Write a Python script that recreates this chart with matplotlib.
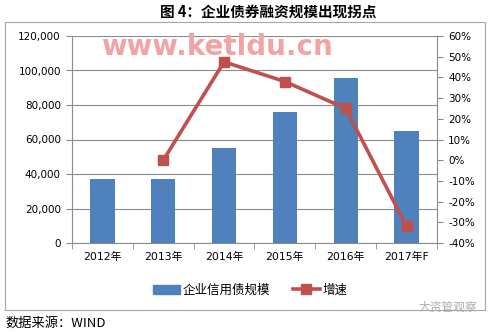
import matplotlib
matplotlib.use("Agg")
import matplotlib.pyplot as plt
import matplotlib.patches as mpatches
from matplotlib.lines import Line2D
import numpy as np

plt.rcParams['font.family'] = ['DejaVu Sans', 'Noto Sans CJK SC']

categories = ["2012年", "2013年", "2014年", "2015年", "2016年", "2017年F"]
scale_values = [37100, 37100, 55000, 76000, 95600, 65000]
growth_pct = [None, 0.0, 47.5, 38.0, 25.0, -32.0]
left_ticks = [0, 20000, 40000, 60000, 80000, 100000, 120000]
right_ticks = [-40, -30, -20, -10, 0, 10, 20, 30, 40, 50, 60]

BLUE = '#4F81BD'
RED = '#C0504D'
GRID = '#8C8C8C'

W, H = 491, 332
fig = plt.figure(figsize=(W / 100, H / 100), dpi=100)

def fx(px):
    return px / W

def fy(py):
    return 1 - py / H

# outer frame
fig.patches.append(mpatches.Rectangle((fx(5), fy(310)), fx(480), 288 / H,
                                      transform=fig.transFigure, fill=False,
                                      edgecolor='#A6A6A6', linewidth=0.8))

ax = fig.add_axes([fx(72), fy(243), fx(365), 207 / H])
x = np.arange(len(categories))
ax.bar(x, scale_values, width=0.4, color=BLUE, zorder=3)
ax.set_xlim(-0.5, len(categories) - 0.5)
ax.set_ylim(0, 120000)
ax.set_yticks(left_ticks)
ax.set_yticklabels([f"{v:,}" for v in left_ticks], fontsize=7.5)
ax.yaxis.grid(True, color=GRID, linewidth=0.8, zorder=0)
ax.set_axisbelow(True)
ax.set_xticks(x)
ax.set_xticklabels(categories, fontsize=7.8)
ax.tick_params(axis='x', length=0, pad=6)
ax.set_xticks(np.arange(-0.5, len(categories)), minor=True)
ax.tick_params(axis='x', which='minor', length=4, color=GRID)
ax.tick_params(axis='y', length=4, color=GRID, pad=4)
for s in ['top', 'right']:
    ax.spines[s].set_visible(False)
for s in ['left', 'bottom']:
    ax.spines[s].set_color(GRID)
    ax.spines[s].set_linewidth(0.8)

ax2 = ax.twinx()
gx = [i for i, g in enumerate(growth_pct) if g is not None]
gy = [g for g in growth_pct if g is not None]
ax2.plot(gx, gy, color=RED, linewidth=2.6, marker='s', markersize=6.5,
         markerfacecolor=RED, markeredgecolor=RED, zorder=4)
ax2.set_ylim(-40, 60)
ax2.set_yticks(right_ticks)
ax2.set_yticklabels([f"{v}%" for v in right_ticks], fontsize=7.5)
ax2.tick_params(axis='y', length=4, color=GRID, pad=4)
for s in ['top', 'left', 'bottom']:
    ax2.spines[s].set_visible(False)
ax2.spines['right'].set_color(GRID)
ax2.spines['right'].set_linewidth(0.8)

# title
fig.text(fx(268), fy(12), "图 4：企业债券融资规模出现拐点", ha='center', va='center',
         fontsize=10.5, fontweight='bold', family=['Noto Sans CJK SC', 'DejaVu Sans'])

# watermark
fig.text(fx(217), fy(47), "www.ketldu.cn", ha='center', va='center',
         fontsize=20, fontweight='bold', color='#F2A3A3', zorder=10)

# legend
handles = [mpatches.Patch(color=BLUE),
           Line2D([0], [0], color=RED, linewidth=2.6, marker='s', markersize=6.5)]
fig.legend(handles, ["企业信用债规模", "增速"], loc='center',
           bbox_to_anchor=(fx(250), fy(290)), ncol=2, frameon=False,
           handlelength=2.2, columnspacing=1.8, handletextpad=0.2,
           prop={'family': ['Noto Sans CJK SC'], 'size': 9})

fig.text(fx(5), fy(323), "数据来源：WIND", ha='left', va='center', fontsize=9.5,
         family=['Noto Sans CJK SC', 'DejaVu Sans'])
fig.text(fx(448), fy(307), "大资管观察", ha='center', va='center', fontsize=8.5,
         color='#B0B0B0', family=['Noto Sans CJK SC'])

fig.savefig("out.png", dpi=100)
